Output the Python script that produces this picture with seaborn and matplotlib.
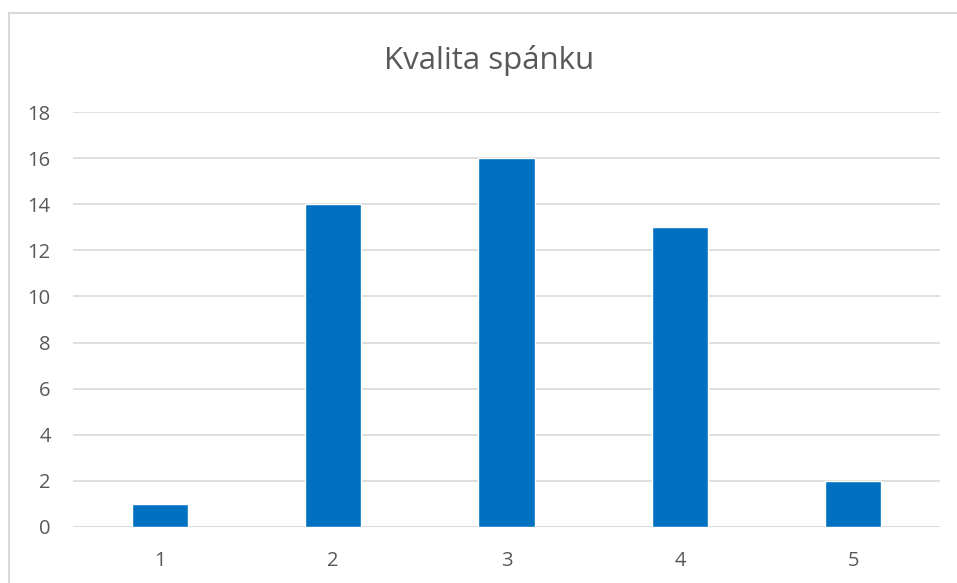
import matplotlib
matplotlib.use("Agg")
import matplotlib.pyplot as plt
import seaborn as sns
import pandas as pd
from matplotlib.lines import Line2D

categories = ["1", "2", "3", "4", "5"]
values = [1, 14, 16, 13, 2]
title = "Kvalita spánku"
y_ticks = [0, 2, 4, 6, 8, 10, 12, 14, 16, 18]

sns.set_theme(style="white")
plt.rcParams['font.family'] = ['Open Sans', 'DejaVu Sans']

df = pd.DataFrame({"cat": categories, "val": values})

fig = plt.figure(figsize=(9.57, 5.83), dpi=100)
ax = fig.add_axes([73/957, 1-527/583, (940-73)/957, (527-112)/583])

sns.barplot(data=df, x="cat", y="val", color="#0070C0", width=0.323,
            saturation=1, ax=ax, zorder=3)

ax.set_ylim(0, 18)
ax.set_xlim(-0.5, 4.5)
ax.set_yticks(y_ticks)
ax.set_yticklabels([str(t) for t in y_ticks])
ax.yaxis.grid(True, color="#D9D9D9", linewidth=1.2, zorder=0)
ax.set_axisbelow(True)
for s in ax.spines.values():
    s.set_visible(False)
ax.axhline(0, color="#D9D9D9", linewidth=1.2, zorder=1)
ax.tick_params(axis='both', length=0, labelsize=14.5, colors="#595959")
ax.tick_params(axis='y', pad=16)
ax.tick_params(axis='x', pad=17)
ax.set_xlabel("")
ax.set_ylabel("")

fig.text(489/957, 1-61/583, title, ha="center", va="center",
         fontsize=22.5, color="#595959")

# chart border (top and left visible)
fig.add_artist(Line2D([8.5/957, 1.0], [1-13/583, 1-13/583],
                      transform=fig.transFigure, color="#D9D9D9", linewidth=1.5))
fig.add_artist(Line2D([8.5/957, 8.5/957], [0, 1-13/583],
                      transform=fig.transFigure, color="#D9D9D9", linewidth=1.5))

fig.savefig("out.png", dpi=100)
